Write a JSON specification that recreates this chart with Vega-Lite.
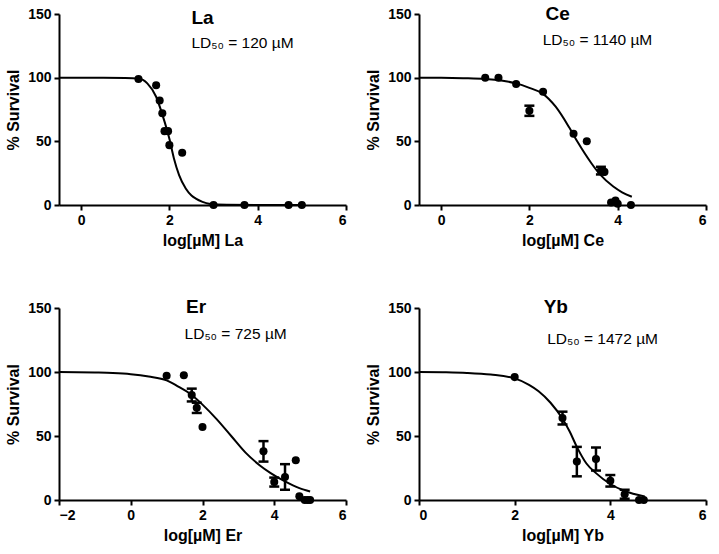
{
  "$schema": "https://vega.github.io/schema/vega-lite/v6.json",
  "background": "white",
  "padding": {"left": 5, "top": 5, "right": 5, "bottom": 5},
  "datasets": {
    "survival": [
      {"metal": "La", "type": "curve", "x": -0.5, "v": 100},
      {"metal": "La", "type": "curve", "x": 0.5, "v": 100},
      {"metal": "La", "type": "curve", "x": 1.0, "v": 99.8},
      {"metal": "La", "type": "curve", "x": 1.3, "v": 99.3},
      {"metal": "La", "type": "curve", "x": 1.5, "v": 95.5},
      {"metal": "La", "type": "curve", "x": 1.7, "v": 85},
      {"metal": "La", "type": "curve", "x": 1.85, "v": 70},
      {"metal": "La", "type": "curve", "x": 2.0, "v": 52},
      {"metal": "La", "type": "curve", "x": 2.1, "v": 37},
      {"metal": "La", "type": "curve", "x": 2.22, "v": 23.5},
      {"metal": "La", "type": "curve", "x": 2.37, "v": 13},
      {"metal": "La", "type": "curve", "x": 2.5, "v": 7.5},
      {"metal": "La", "type": "curve", "x": 2.6, "v": 5},
      {"metal": "La", "type": "curve", "x": 2.75, "v": 2.5},
      {"metal": "La", "type": "curve", "x": 2.9, "v": 1},
      {"metal": "La", "type": "curve", "x": 3.3, "v": 0.2},
      {"metal": "La", "type": "curve", "x": 4.0, "v": 0},
      {"metal": "La", "type": "curve", "x": 5.0, "v": 0},
      {"metal": "La", "type": "pt", "x": 1.3, "v": 99},
      {"metal": "La", "type": "pt", "x": 1.7, "v": 94},
      {"metal": "La", "type": "pt", "x": 1.78, "v": 82},
      {"metal": "La", "type": "pt", "x": 1.84, "v": 72},
      {"metal": "La", "type": "pt", "x": 1.89, "v": 58},
      {"metal": "La", "type": "pt", "x": 1.97, "v": 58},
      {"metal": "La", "type": "pt", "x": 2.0, "v": 47},
      {"metal": "La", "type": "pt", "x": 2.29, "v": 41},
      {"metal": "La", "type": "pt", "x": 3.0, "v": 0},
      {"metal": "La", "type": "pt", "x": 3.7, "v": 0},
      {"metal": "La", "type": "pt", "x": 4.7, "v": 0},
      {"metal": "La", "type": "pt", "x": 5.0, "v": 0},
      {"metal": "La", "type": "title", "x": 2.75, "v": 147, "label": "La"},
      {"metal": "La", "type": "ld", "x": 2.5, "v": 127.5, "label": "LD₅₀ = 120 µM"},

      {"metal": "Ce", "type": "curve", "x": -0.5, "v": 100},
      {"metal": "Ce", "type": "curve", "x": 0.0, "v": 99.9},
      {"metal": "Ce", "type": "curve", "x": 0.5, "v": 99.6},
      {"metal": "Ce", "type": "curve", "x": 1.0, "v": 99},
      {"metal": "Ce", "type": "curve", "x": 1.5, "v": 97},
      {"metal": "Ce", "type": "curve", "x": 1.7, "v": 95.5},
      {"metal": "Ce", "type": "curve", "x": 2.0, "v": 92},
      {"metal": "Ce", "type": "curve", "x": 2.3, "v": 87.5},
      {"metal": "Ce", "type": "curve", "x": 2.6, "v": 77},
      {"metal": "Ce", "type": "curve", "x": 2.9, "v": 61},
      {"metal": "Ce", "type": "curve", "x": 3.1, "v": 49},
      {"metal": "Ce", "type": "curve", "x": 3.4, "v": 33},
      {"metal": "Ce", "type": "curve", "x": 3.6, "v": 24},
      {"metal": "Ce", "type": "curve", "x": 3.9, "v": 14.5},
      {"metal": "Ce", "type": "curve", "x": 4.1, "v": 10},
      {"metal": "Ce", "type": "curve", "x": 4.32, "v": 6.5},
      {"metal": "Ce", "type": "pt", "x": 1.0, "v": 100},
      {"metal": "Ce", "type": "pt", "x": 1.3, "v": 100},
      {"metal": "Ce", "type": "pt", "x": 1.7, "v": 95},
      {"metal": "Ce", "type": "pt", "x": 2.0, "v": 74, "err": 4},
      {"metal": "Ce", "type": "pt", "x": 2.31, "v": 89},
      {"metal": "Ce", "type": "pt", "x": 3.0, "v": 56},
      {"metal": "Ce", "type": "pt", "x": 3.3, "v": 50},
      {"metal": "Ce", "type": "pt", "x": 3.62, "v": 27, "err": 3},
      {"metal": "Ce", "type": "pt", "x": 3.7, "v": 26},
      {"metal": "Ce", "type": "pt", "x": 3.85, "v": 2},
      {"metal": "Ce", "type": "pt", "x": 3.95, "v": 3.5},
      {"metal": "Ce", "type": "pt", "x": 4.0, "v": 1},
      {"metal": "Ce", "type": "pt", "x": 4.3, "v": 0},
      {"metal": "Ce", "type": "title", "x": 2.64, "v": 150, "label": "Ce"},
      {"metal": "Ce", "type": "ld", "x": 2.3, "v": 129.7, "label": "LD₅₀ = 1140 µM"},

      {"metal": "Er", "type": "curve", "x": -2.0, "v": 100},
      {"metal": "Er", "type": "curve", "x": -1.0, "v": 99.6},
      {"metal": "Er", "type": "curve", "x": -0.5, "v": 99.2},
      {"metal": "Er", "type": "curve", "x": 0.0, "v": 98.3},
      {"metal": "Er", "type": "curve", "x": 0.5, "v": 96.5},
      {"metal": "Er", "type": "curve", "x": 1.0, "v": 93.5},
      {"metal": "Er", "type": "curve", "x": 1.3, "v": 89},
      {"metal": "Er", "type": "curve", "x": 1.7, "v": 82},
      {"metal": "Er", "type": "curve", "x": 2.0, "v": 74.5},
      {"metal": "Er", "type": "curve", "x": 2.4, "v": 63},
      {"metal": "Er", "type": "curve", "x": 2.8, "v": 50},
      {"metal": "Er", "type": "curve", "x": 3.2, "v": 37},
      {"metal": "Er", "type": "curve", "x": 3.6, "v": 27},
      {"metal": "Er", "type": "curve", "x": 3.9, "v": 21},
      {"metal": "Er", "type": "curve", "x": 4.3, "v": 14.5},
      {"metal": "Er", "type": "curve", "x": 4.7, "v": 9.3},
      {"metal": "Er", "type": "curve", "x": 5.0, "v": 6.7},
      {"metal": "Er", "type": "pt", "x": 1.0, "v": 97},
      {"metal": "Er", "type": "pt", "x": 1.48, "v": 97.5},
      {"metal": "Er", "type": "pt", "x": 1.7, "v": 82, "err": 5},
      {"metal": "Er", "type": "pt", "x": 1.84, "v": 72, "err": 4},
      {"metal": "Er", "type": "pt", "x": 2.0, "v": 57},
      {"metal": "Er", "type": "pt", "x": 3.7, "v": 38, "err": 8},
      {"metal": "Er", "type": "pt", "x": 4.0, "v": 14, "err": 3.5},
      {"metal": "Er", "type": "pt", "x": 4.3, "v": 18, "err": 10},
      {"metal": "Er", "type": "pt", "x": 4.6, "v": 31},
      {"metal": "Er", "type": "pt", "x": 4.7, "v": 3},
      {"metal": "Er", "type": "pt", "x": 4.85, "v": 0},
      {"metal": "Er", "type": "pt", "x": 4.93, "v": 0},
      {"metal": "Er", "type": "pt", "x": 5.0, "v": 0},
      {"metal": "Er", "type": "title", "x": 1.82, "v": 150.5, "label": "Er"},
      {"metal": "Er", "type": "ld", "x": 1.5, "v": 130, "label": "LD₅₀ = 725 µM"},

      {"metal": "Yb", "type": "curve", "x": 0.0, "v": 100},
      {"metal": "Yb", "type": "curve", "x": 0.5, "v": 99.8},
      {"metal": "Yb", "type": "curve", "x": 1.0, "v": 99.3},
      {"metal": "Yb", "type": "curve", "x": 1.5, "v": 98},
      {"metal": "Yb", "type": "curve", "x": 2.0, "v": 95},
      {"metal": "Yb", "type": "curve", "x": 2.3, "v": 90},
      {"metal": "Yb", "type": "curve", "x": 2.5, "v": 85},
      {"metal": "Yb", "type": "curve", "x": 2.75, "v": 76},
      {"metal": "Yb", "type": "curve", "x": 3.0, "v": 63.5},
      {"metal": "Yb", "type": "curve", "x": 3.15, "v": 53.5},
      {"metal": "Yb", "type": "curve", "x": 3.3, "v": 41.5},
      {"metal": "Yb", "type": "curve", "x": 3.5, "v": 28.5},
      {"metal": "Yb", "type": "curve", "x": 3.7, "v": 21},
      {"metal": "Yb", "type": "curve", "x": 4.0, "v": 12.5},
      {"metal": "Yb", "type": "curve", "x": 4.3, "v": 7},
      {"metal": "Yb", "type": "curve", "x": 4.72, "v": 2.8},
      {"metal": "Yb", "type": "pt", "x": 2.0, "v": 96},
      {"metal": "Yb", "type": "pt", "x": 3.0, "v": 64, "err": 5},
      {"metal": "Yb", "type": "pt", "x": 3.3, "v": 30, "err": 11.5},
      {"metal": "Yb", "type": "pt", "x": 3.7, "v": 32, "err": 9},
      {"metal": "Yb", "type": "pt", "x": 4.0, "v": 15, "err": 4.5},
      {"metal": "Yb", "type": "pt", "x": 4.3, "v": 4.5, "err": 3.5},
      {"metal": "Yb", "type": "pt", "x": 4.6, "v": 0},
      {"metal": "Yb", "type": "pt", "x": 4.7, "v": 0},
      {"metal": "Yb", "type": "title", "x": 2.86, "v": 150.8, "label": "Yb"},
      {"metal": "Yb", "type": "ld", "x": 2.68, "v": 125.8, "label": "LD₅₀ = 1472 µM"}
    ]
  },
  "data": {"name": "survival"},
  "columns": 2,
  "spacing": {"row": 49, "column": 18},
  "concat": [
    {
      "width": 287,
      "height": 191,
      "transform": [{"filter": "datum.metal == 'La'"}],
      "encoding": {
        "x": {"field": "x", "type": "quantitative", "scale": {"domain": [-0.5, 6], "nice": false}, "axis": {"values": [0, 2, 4, 6], "title": "log[µM] La"}},
        "y": {"field": "v", "type": "quantitative", "scale": {"domain": [0, 150], "nice": false}, "axis": {"values": [0, 50, 100, 150], "title": "% Survival"}}
      },
      "layer": [
        {"transform": [{"filter": "datum.type == 'curve'"}], "mark": {"type": "line", "color": "black", "strokeWidth": 2, "interpolate": "monotone"}, "encoding": {}},
        {"transform": [{"filter": "datum.type == 'pt'"}], "mark": {"type": "circle", "color": "black", "size": 65, "opacity": 1}},
        {"transform": [{"filter": "datum.type == 'title'"}], "mark": {"type": "text", "font": "Liberation Sans", "fontSize": 19, "fontWeight": "bold", "align": "center", "baseline": "middle", "color": "black"}, "encoding": {"text": {"field": "label"}}},
        {"transform": [{"filter": "datum.type == 'ld'"}], "mark": {"type": "text", "font": "Liberation Sans", "fontSize": 15.5, "align": "left", "baseline": "middle", "color": "black"}, "encoding": {"text": {"field": "label"}}}
      ]
    },
    {
      "width": 287,
      "height": 191,
      "transform": [{"filter": "datum.metal == 'Ce'"}],
      "encoding": {
        "x": {"field": "x", "type": "quantitative", "scale": {"domain": [-0.5, 6], "nice": false}, "axis": {"values": [0, 2, 4, 6], "title": "log[µM] Ce"}},
        "y": {"field": "v", "type": "quantitative", "scale": {"domain": [0, 150], "nice": false}, "axis": {"values": [0, 50, 100, 150], "title": "% Survival"}}
      },
      "layer": [
        {"transform": [{"filter": "datum.type == 'curve'"}], "mark": {"type": "line", "color": "black", "strokeWidth": 2, "interpolate": "monotone"}, "encoding": {}},
        {"transform": [{"filter": "datum.type == 'pt' && isValid(datum.err)"}], "mark": {"type": "errorbar", "color": "black", "opacity": 1, "thickness": 2.5, "size": 10, "ticks": true}, "encoding": {"yError": {"field": "err"}}},
        {"transform": [{"filter": "datum.type == 'pt'"}], "mark": {"type": "circle", "color": "black", "size": 65, "opacity": 1}},
        {"transform": [{"filter": "datum.type == 'title'"}], "mark": {"type": "text", "font": "Liberation Sans", "fontSize": 19, "fontWeight": "bold", "align": "center", "baseline": "middle", "color": "black"}, "encoding": {"text": {"field": "label"}}},
        {"transform": [{"filter": "datum.type == 'ld'"}], "mark": {"type": "text", "font": "Liberation Sans", "fontSize": 15.5, "align": "left", "baseline": "middle", "color": "black"}, "encoding": {"text": {"field": "label"}}}
      ]
    },
    {
      "width": 287,
      "height": 192,
      "transform": [{"filter": "datum.metal == 'Er'"}],
      "encoding": {
        "x": {"field": "x", "type": "quantitative", "scale": {"domain": [-2, 6], "nice": false}, "axis": {"values": [-2, 0, 2, 4, 6], "title": "log[µM] Er"}},
        "y": {"field": "v", "type": "quantitative", "scale": {"domain": [0, 150], "nice": false}, "axis": {"values": [0, 50, 100, 150], "title": "% Survival"}}
      },
      "layer": [
        {"transform": [{"filter": "datum.type == 'curve'"}], "mark": {"type": "line", "color": "black", "strokeWidth": 2, "interpolate": "monotone"}, "encoding": {}},
        {"transform": [{"filter": "datum.type == 'pt' && isValid(datum.err)"}], "mark": {"type": "errorbar", "color": "black", "opacity": 1, "thickness": 2.5, "size": 10, "ticks": true}, "encoding": {"yError": {"field": "err"}}},
        {"transform": [{"filter": "datum.type == 'pt'"}], "mark": {"type": "circle", "color": "black", "size": 65, "opacity": 1}},
        {"transform": [{"filter": "datum.type == 'title'"}], "mark": {"type": "text", "font": "Liberation Sans", "fontSize": 19, "fontWeight": "bold", "align": "center", "baseline": "middle", "color": "black"}, "encoding": {"text": {"field": "label"}}},
        {"transform": [{"filter": "datum.type == 'ld'"}], "mark": {"type": "text", "font": "Liberation Sans", "fontSize": 15.5, "align": "left", "baseline": "middle", "color": "black"}, "encoding": {"text": {"field": "label"}}}
      ]
    },
    {
      "width": 287,
      "height": 192,
      "transform": [{"filter": "datum.metal == 'Yb'"}],
      "encoding": {
        "x": {"field": "x", "type": "quantitative", "scale": {"domain": [0, 6], "nice": false}, "axis": {"values": [0, 2, 4, 6], "title": "log[µM] Yb"}},
        "y": {"field": "v", "type": "quantitative", "scale": {"domain": [0, 150], "nice": false}, "axis": {"values": [0, 50, 100, 150], "title": "% Survival"}}
      },
      "layer": [
        {"transform": [{"filter": "datum.type == 'curve'"}], "mark": {"type": "line", "color": "black", "strokeWidth": 2, "interpolate": "monotone"}, "encoding": {}},
        {"transform": [{"filter": "datum.type == 'pt' && isValid(datum.err)"}], "mark": {"type": "errorbar", "color": "black", "opacity": 1, "thickness": 2.5, "size": 10, "ticks": true}, "encoding": {"yError": {"field": "err"}}},
        {"transform": [{"filter": "datum.type == 'pt'"}], "mark": {"type": "circle", "color": "black", "size": 65, "opacity": 1}},
        {"transform": [{"filter": "datum.type == 'title'"}], "mark": {"type": "text", "font": "Liberation Sans", "fontSize": 19, "fontWeight": "bold", "align": "center", "baseline": "middle", "color": "black"}, "encoding": {"text": {"field": "label"}}},
        {"transform": [{"filter": "datum.type == 'ld'"}], "mark": {"type": "text", "font": "Liberation Sans", "fontSize": 15.5, "align": "left", "baseline": "middle", "color": "black"}, "encoding": {"text": {"field": "label"}}}
      ]
    }
  ],
  "config": {
    "view": {"stroke": null},
    "axis": {
      "grid": false,
      "domainColor": "black",
      "domainWidth": 2,
      "tickColor": "black",
      "tickWidth": 2,
      "tickSize": 5,
      "labelFont": "Liberation Sans",
      "labelFontSize": 14,
      "labelFontWeight": "bold",
      "labelColor": "black",
      "labelPadding": 3,
      "titleFont": "Liberation Sans",
      "titleFontSize": 16,
      "titleFontWeight": "bold",
      "titleColor": "black"
    },
    "axisY": {"titlePadding": 6},
    "axisX": {"titlePadding": 5}
  }
}
